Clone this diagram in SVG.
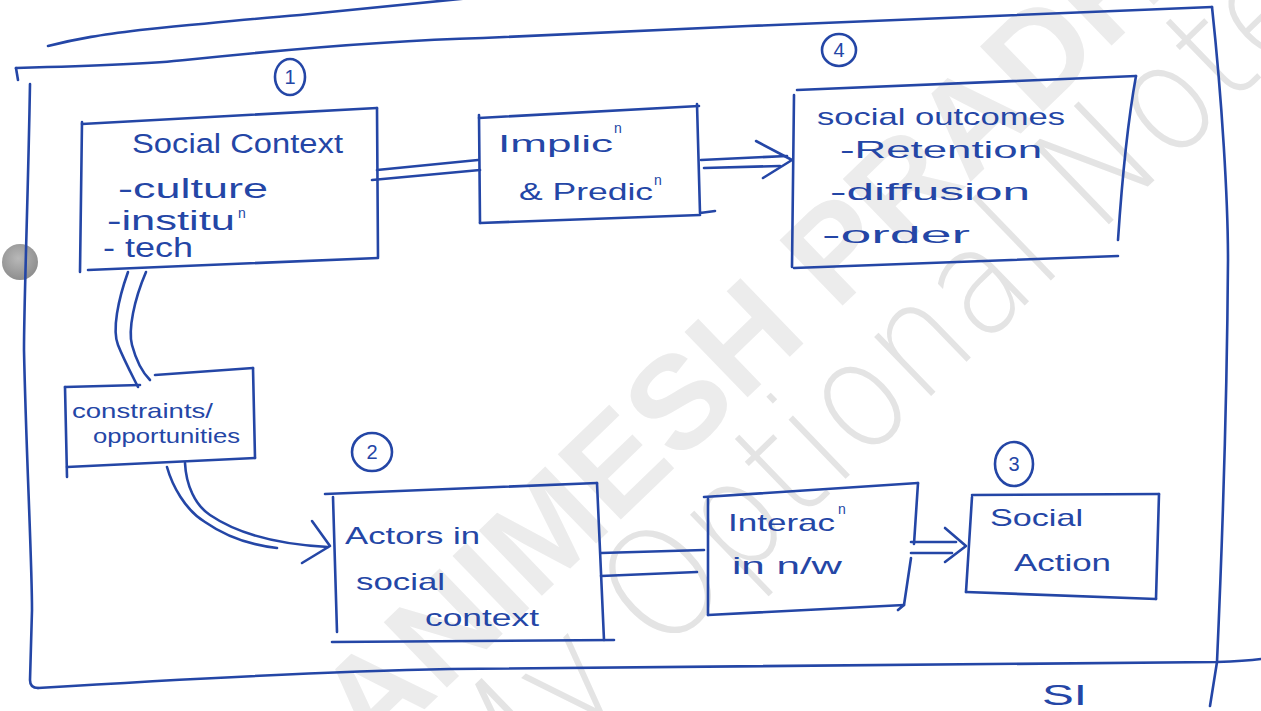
<svg xmlns="http://www.w3.org/2000/svg" width="1261" height="711" viewBox="0 0 1261 711">
  <defs>
    <style>
      .ink { fill: none; stroke: #2446a6; stroke-width: 2.6; stroke-linecap: round; stroke-linejoin: round; }
      .txt { fill: #2446a6; font-family: "Liberation Sans", "DejaVu Sans", sans-serif; }
      .big { font-size: 27px; }
      .mid { font-size: 24px; }
      .sml { font-size: 21px; }
      .sup { font-size: 14px; }
      .num { font-size: 20px; text-anchor: middle; }
      .wm-bold { fill: #ececec; font-family: "Liberation Sans", Arial, sans-serif; font-weight: bold; font-size: 132px; }
      .wm-thin { fill: #e4e4e4; font-family: "DejaVu Sans", "Liberation Sans", sans-serif; font-weight: 200; font-size: 150px; }
    </style>
    <radialGradient id="hole" cx="0.45" cy="0.4" r="0.6">
      <stop offset="0" stop-color="#b8b8b8"/>
      <stop offset="1" stop-color="#8e8e8e"/>
    </radialGradient>
  </defs>

  <rect x="0" y="0" width="1261" height="711" fill="#ffffff"/>

  <!-- background watermark -->
  <g id="watermark">
    <text class="wm-bold" x="372" y="760" transform="rotate(-44 372 760)">ANIMESH PRADHAN</text>
    <text class="wm-thin" x="490" y="822" transform="rotate(-44 490 822)" textLength="1230" lengthAdjust="spacingAndGlyphs">My Optional Notes</text>
  </g>

  <!-- punched hole on the left margin -->
  <circle cx="20" cy="262" r="18" fill="url(#hole)"/>

  <!-- heading underline and outer frame -->
  <g id="frame">
    <path class="ink" d="M48 46 C80 38 100 35 140 30 C200 24 250 19 300 15 L470 -2"/>
    <path class="ink" d="M16 68 C90 66 150 64 185 60 C300 48 400 40 483 38 C600 32 700 28 748 26 L1212 7"/>
    <path class="ink" d="M16 68 L18 80"/>
    <path class="ink" d="M1212 7 C1222 100 1228 200 1228 260 C1227 400 1222 550 1217 662 L1210 706"/>
    <path class="ink" d="M30 84 C28 200 24 300 24 350 C26 450 32 560 32 610 L30 680 Q30 688 38 688"/>
    <path class="ink" d="M38 688 C200 678 350 671 450 669 L1217 662 Q1245 661 1261 659"/>
    <text class="txt" x="1042" y="705" font-size="30" textLength="45" lengthAdjust="spacingAndGlyphs">SI</text>
  </g>

  <!-- connectors -->
  <g id="connectors">
    <!-- Social Context => Implication -->
    <path class="ink" d="M377 170 L478 160"/>
    <path class="ink" d="M372 180 L480 170"/>
    <!-- Implication => Social outcomes -->
    <path class="ink" d="M701 160 L787 156"/>
    <path class="ink" d="M704 168 L780 166"/>
    <path class="ink" d="M756 141 L792 160 L763 178"/>
    <!-- Social Context => Constraints -->
    <path class="ink" d="M128 272 C118 300 112 330 118 345 C124 360 132 375 138 387"/>
    <path class="ink" d="M146 272 C134 300 128 330 132 345 C136 360 142 372 150 380"/>
    <!-- Constraints => Actors -->
    <path class="ink" d="M167 467 C172 485 185 510 205 522 C225 536 250 545 277 548"/>
    <path class="ink" d="M185 463 C186 485 195 505 210 515 C235 532 270 544 328 547"/>
    <path class="ink" d="M312 521 L330 546 L302 563"/>
    <!-- Actors => Interaction -->
    <path class="ink" d="M601 553 L704 550"/>
    <path class="ink" d="M601 576 L697 572"/>
    <!-- Interaction => Social Action -->
    <path class="ink" d="M911 542 L956 542"/>
    <path class="ink" d="M911 553 L952 553"/>
    <path class="ink" d="M945 528 L966 546 L945 562"/>
  </g>

  <!-- 1: social context -->
  <g id="node-social-context">
    <ellipse class="ink" cx="290" cy="77" rx="15" ry="18"/>
    <text class="txt num" x="290" y="84">1</text>
    <path class="ink" d="M82 124 L377 108"/>
    <path class="ink" d="M82 122 L80 272"/>
    <path class="ink" d="M377 108 L378 257"/>
    <path class="ink" d="M88 270 L378 258"/>
    <text class="txt big" x="132" y="153" textLength="211" lengthAdjust="spacingAndGlyphs">Social Context</text>
    <text class="txt big" x="118" y="198" textLength="150" lengthAdjust="spacingAndGlyphs">-culture</text>
    <text class="txt big" x="107" y="230" textLength="128" lengthAdjust="spacingAndGlyphs">-institu</text>
    <text class="txt sup" x="238" y="218">n</text>
    <text class="txt big" x="103" y="257" textLength="90" lengthAdjust="spacingAndGlyphs">- tech</text>
  </g>

  <!-- implication & prediction -->
  <g id="node-implication">
    <path class="ink" d="M479 118 L699 106"/>
    <path class="ink" d="M479 115 L480 223"/>
    <path class="ink" d="M697 104 L700 213 L715 211"/>
    <path class="ink" d="M480 223 L700 215"/>
    <text class="txt mid" x="498" y="152" textLength="115" lengthAdjust="spacingAndGlyphs">Implic</text>
    <text class="txt sup" x="614" y="133">n</text>
    <text class="txt mid" x="519" y="200" textLength="134" lengthAdjust="spacingAndGlyphs">&amp; Predic</text>
    <text class="txt sup" x="654" y="185">n</text>
  </g>

  <!-- 4: social outcomes -->
  <g id="node-social-outcomes">
    <ellipse class="ink" cx="839" cy="50" rx="17" ry="16"/>
    <text class="txt num" x="839" y="57">4</text>
    <path class="ink" d="M797 90 L1136 76"/>
    <path class="ink" d="M794 95 L792 267"/>
    <path class="ink" d="M1136 76 C1128 120 1122 180 1118 240"/>
    <path class="ink" d="M794 268 L1118 256"/>
    <text class="txt mid" x="817" y="125" textLength="248" lengthAdjust="spacingAndGlyphs">social outcomes</text>
    <text class="txt mid" x="840" y="158" textLength="202" lengthAdjust="spacingAndGlyphs">-Retention</text>
    <text class="txt mid" x="830" y="200" textLength="200" lengthAdjust="spacingAndGlyphs">-diffusion</text>
    <text class="txt mid" x="822" y="243" textLength="148" lengthAdjust="spacingAndGlyphs">-order</text>
  </g>

  <!-- constraints / opportunities -->
  <g id="node-constraints">
    <path class="ink" d="M65 387 L140 385"/>
    <path class="ink" d="M155 375 L253 368"/>
    <path class="ink" d="M253 368 L255 458"/>
    <path class="ink" d="M67 467 L255 458"/>
    <path class="ink" d="M65 387 L67 477"/>
    <text class="txt sml" x="72" y="418" textLength="141" lengthAdjust="spacingAndGlyphs">constraints/</text>
    <text class="txt sml" x="93" y="443" textLength="147" lengthAdjust="spacingAndGlyphs">opportunities</text>
  </g>

  <!-- 2: actors in social context -->
  <g id="node-actors">
    <ellipse class="ink" cx="372" cy="452" rx="20" ry="19"/>
    <text class="txt num" x="372" y="459">2</text>
    <path class="ink" d="M325 494 L597 483"/>
    <path class="ink" d="M333 497 L337 632"/>
    <path class="ink" d="M597 483 L604 640"/>
    <path class="ink" d="M332 642 L614 640"/>
    <text class="txt mid" x="345" y="544" textLength="135" lengthAdjust="spacingAndGlyphs">Actors in</text>
    <text class="txt mid" x="356" y="590" textLength="89" lengthAdjust="spacingAndGlyphs">social</text>
    <text class="txt mid" x="425" y="626" textLength="114" lengthAdjust="spacingAndGlyphs">context</text>
  </g>

  <!-- interaction in network -->
  <g id="node-interaction">
    <path class="ink" d="M704 497 L918 483"/>
    <path class="ink" d="M708 499 L708 615"/>
    <path class="ink" d="M918 483 L914 544"/>
    <path class="ink" d="M911 558 L904 605"/>
    <path class="ink" d="M708 615 L904 605 L898 610"/>
    <text class="txt mid" x="728" y="531" textLength="107" lengthAdjust="spacingAndGlyphs">Interac</text>
    <text class="txt sup" x="838" y="514">n</text>
    <text class="txt mid" x="732" y="574" textLength="110" lengthAdjust="spacingAndGlyphs">in n/w</text>
  </g>

  <!-- 3: social action -->
  <g id="node-social-action">
    <ellipse class="ink" cx="1014" cy="464" rx="19" ry="22"/>
    <text class="txt num" x="1014" y="471">3</text>
    <path class="ink" d="M972 495 L1159 494"/>
    <path class="ink" d="M972 497 L966 592"/>
    <path class="ink" d="M1159 494 L1156 599"/>
    <path class="ink" d="M966 592 L1156 599"/>
    <text class="txt mid" x="990" y="526" textLength="93" lengthAdjust="spacingAndGlyphs">Social</text>
    <text class="txt mid" x="1014" y="571" textLength="97" lengthAdjust="spacingAndGlyphs">Action</text>
  </g>
</svg>
